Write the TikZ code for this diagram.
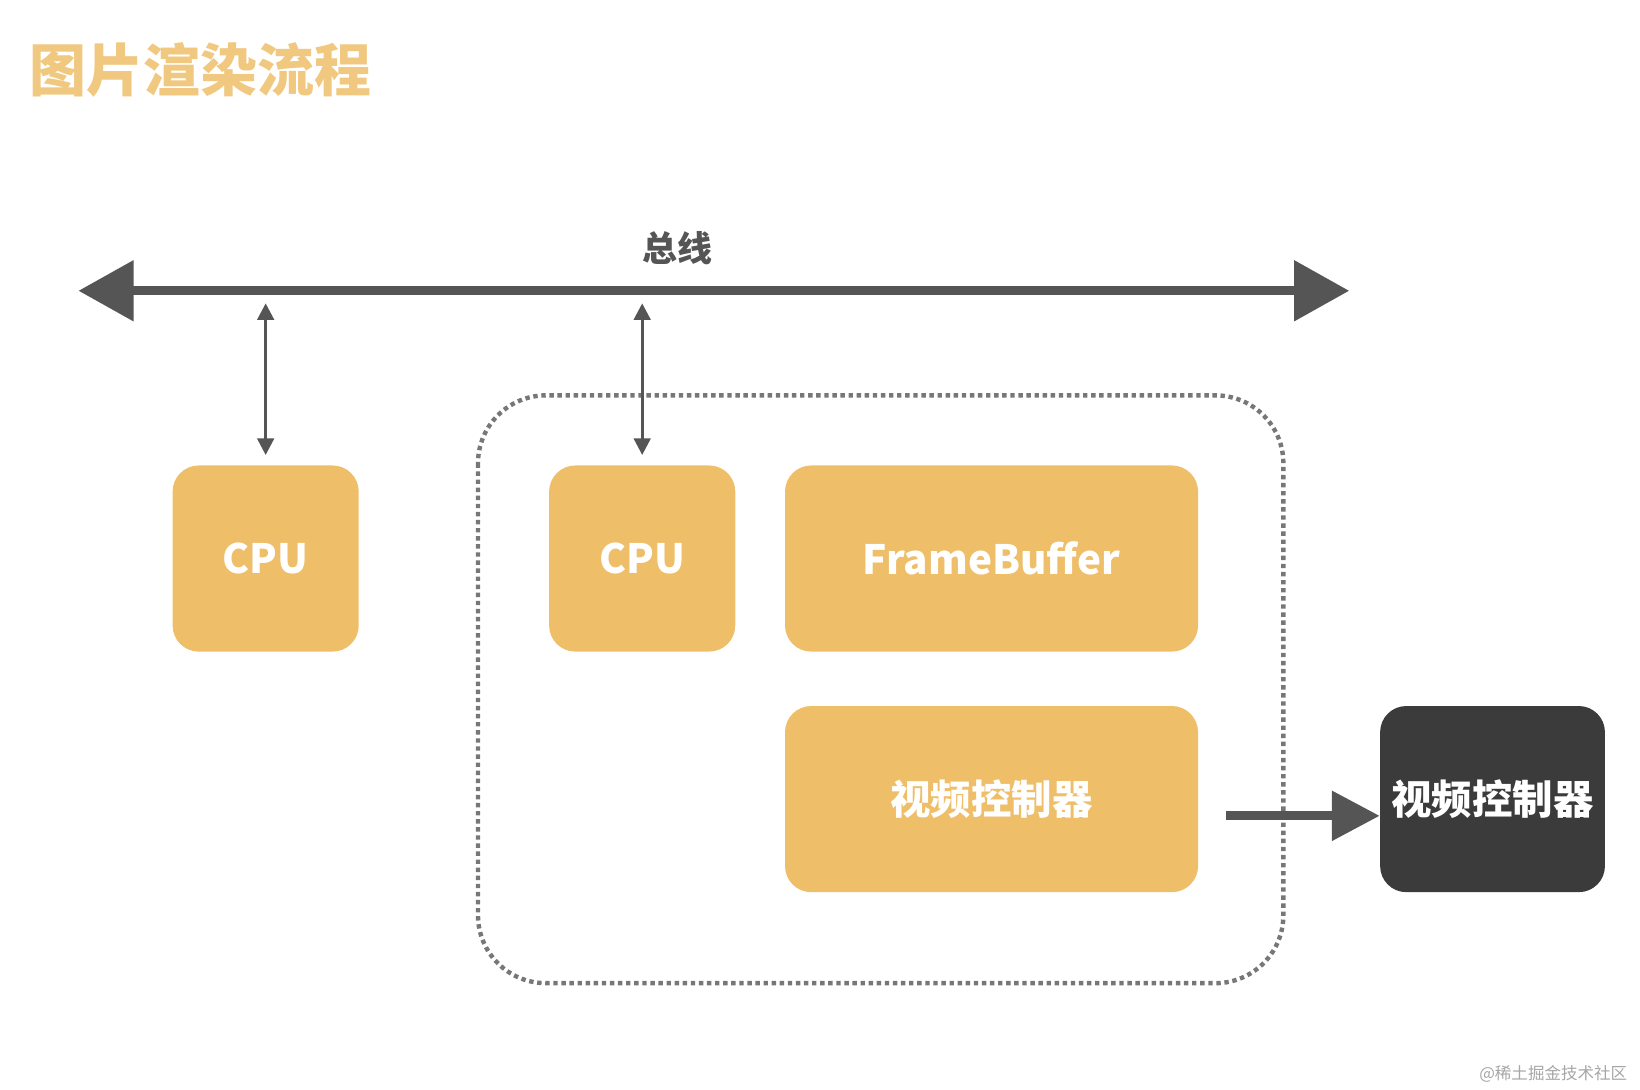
\documentclass[tikz,border=0pt]{standalone}
\usepackage{fontspec}
\setmainfont{Noto Sans CJK SC}
\usetikzlibrary{arrows.meta}
\definecolor{org}{HTML}{EEBE68}
\definecolor{dk}{HTML}{3B3B3B}
\definecolor{ln}{HTML}{555555}
\begin{document}
\begin{tikzpicture}[x=0.02cm,y=-0.02cm,
  box/.style={draw=none,fill=org,rounded corners=0.5cm,inner sep=0,text=white,font=\bfseries\fontsize{22}{24}\selectfont},
  thin/.style={draw=ln,line width=1.6pt,{Triangle[length=9pt,width=9pt]}-{Triangle[length=9pt,width=9pt]}}]
\useasboundingbox (0,0) rectangle (1568,1042);
\node[text=org!85!white,font=\bfseries\fontsize{31}{34}\selectfont,anchor=west] (title) at (22,67) {图片渲染流程};
\node[text=ln,font=\bfseries\fontsize{19}{22}\selectfont] (bus) at (648,237) {总线};
\coordinate (bl) at (75,278); \coordinate (br) at (1290,278);
\draw[ln,line width=5pt,{Triangle[length=30pt,width=32pt]}-{Triangle[length=30pt,width=32pt]}] (bl) -- (br);
\draw[dotted,line width=2.4pt,ln!80,rounded corners=1.3cm] (457,378) rectangle (1227,940);
\node[box,minimum width=3.56cm,minimum height=3.56cm] (cpu1) at (254,534) {CPU};
\node[box,minimum width=3.56cm,minimum height=3.56cm] (cpu2) at (614,534) {CPU};
\node[box,minimum width=7.9cm,minimum height=3.56cm] (fb) at (948,534) {FrameBuffer};
\node[box,minimum width=7.9cm,minimum height=3.56cm] (vc) at (948,764) {视频控制器};
\node[box,fill=dk,minimum width=4.3cm,minimum height=3.56cm] (vc2) at (1427,764) {视频控制器};
\coordinate (t1) at (254,290); \coordinate (t2) at (614,290);
\draw[thin] (t1) -- (cpu1.north|-0,435);
\draw[thin] (t2) -- (cpu2.north|-0,435);
\coordinate (as) at (1172,780);
\draw[ln,line width=5pt,-{Triangle[length=26pt,width=26pt]}] (as) -- (vc2.west|-as);
\node[text=gray!70,font=\fontsize{9}{10}\selectfont,anchor=east] (wm) at (1562,1027) {@稀土掘金技术社区};
\end{tikzpicture}
\end{document}
